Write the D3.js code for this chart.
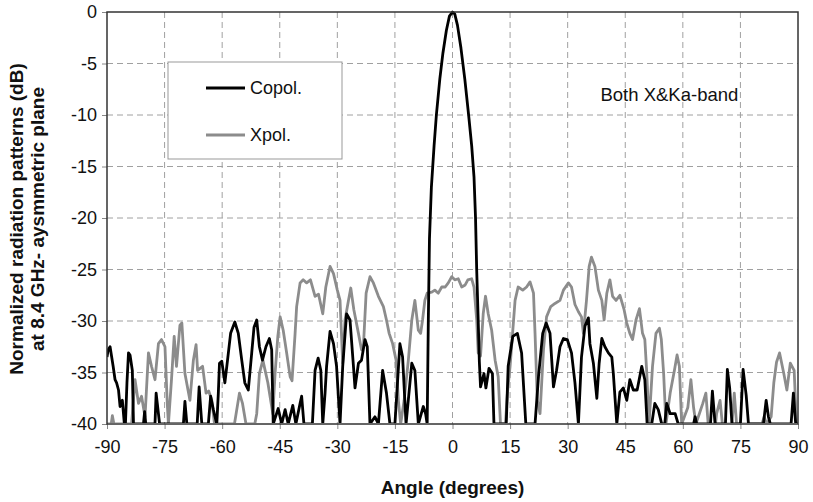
<!DOCTYPE html>
<html><head><meta charset="utf-8">
<script src="https://cdn.jsdelivr.net/npm/d3@7"></script>
<style>body{margin:0;background:#fff}svg{display:block}text{font-family:"Liberation Sans",Arial,sans-serif}</style>
</head><body><svg id="c" width="813" height="502"></svg>
<script>
const xTicks=[-90,-75,-60,-45,-30,-15,0,15,30,45,60,75,90];
const yTicks=[0,-5,-10,-15,-20,-25,-30,-35,-40];
const seriesNames=["Copol.","Xpol."];
const copol=[[-90,-33.5],[-89.7,-32.8],[-89.2,-32.5],[-88.4,-34.4],[-87.9,-35.7],[-87.5,-36.0],[-87.0,-36.7],[-86.6,-38.3],[-86.0,-37.7],[-85.5,-39.9],[-85.2,-40],[-84.8,-36],[-84.4,-33.1],[-84.0,-33.3],[-83.4,-34.8],[-83.1,-40],[-80.5,-40],[-80.2,-38.8],[-79.9,-40],[-77.5,-40],[-77.2,-37.0],[-76.9,-38],[-76.3,-40],[-70.1,-40],[-69.7,-37.8],[-69.2,-40],[-66.5,-40],[-66.0,-36.4],[-65.3,-40],[-63.6,-40],[-63.0,-37.3],[-62.3,-38.6],[-61.4,-40],[-61.0,-37],[-60.7,-34.1],[-60.1,-33.9],[-59.3,-36.0],[-58.6,-33.8],[-57.8,-31.2],[-56.7,-30.1],[-55.8,-31.2],[-54.9,-33.8],[-54.1,-36.0],[-53.2,-36.7],[-52.3,-33.1],[-51.7,-30.6],[-51.0,-29.9],[-50.3,-32.5],[-49.5,-33.8],[-48.6,-32.5],[-47.7,-31.7],[-47.1,-32.8],[-46.7,-40],[-45.4,-38.5],[-44.5,-40],[-43.6,-38.6],[-42.8,-40],[-41.6,-38.2],[-40.8,-40],[-39.7,-38],[-39.3,-37.3],[-38.7,-40],[-36.5,-40],[-35.8,-34.8],[-35.0,-33.6],[-34.3,-34.8],[-33.8,-40],[-33.2,-37],[-32.8,-34.4],[-31.9,-31.0],[-31.0,-32.2],[-30.2,-34.4],[-29.3,-40],[-28.6,-34.4],[-27.6,-29.3],[-26.7,-29.9],[-25.8,-34.4],[-25.4,-36.5],[-24.5,-34.1],[-23.7,-33.8],[-22.8,-31.8],[-22.2,-32.5],[-21.5,-40],[-20.2,-39.3],[-19.3,-40],[-18.2,-34.8],[-17.2,-37],[-16.3,-40],[-15.0,-40],[-13.7,-32.2],[-13.0,-33.5],[-12.1,-40],[-10.6,-34.1],[-9.8,-34.8],[-8.9,-40],[-7.6,-38.3],[-7.0,-39.0],[-6.6,-40],[-6.3,-30],[-6.0,-22],[-5.5,-17],[-4.8,-13],[-4.2,-10],[-3.3,-6.5],[-2.5,-4],[-1.6,-1.8],[-0.8,-0.4],[0,0],[0.6,-0.2],[1.3,-1.3],[2.2,-3.5],[3.2,-6.5],[4.2,-10],[5.0,-13],[5.6,-16],[6.0,-20],[6.3,-25],[6.7,-30],[7.0,-34],[7.3,-36.4],[8.2,-35.1],[8.7,-36.5],[9.5,-34.6],[10.4,-35.1],[10.8,-40],[14.0,-40],[14.5,-34.4],[15.7,-31.5],[16.9,-31.2],[18.0,-33.1],[19.1,-40],[21.5,-40],[22.4,-35.4],[23.5,-31.2],[24.4,-30.2],[25.4,-31.2],[26.3,-36.4],[27.1,-34.8],[28.0,-32.5],[28.9,-31.7],[29.9,-31.8],[31.0,-33.1],[31.9,-36],[32.8,-40],[33.6,-33.5],[34.5,-30.5],[35.4,-29.7],[35.8,-32.2],[36.7,-34.1],[37.6,-37.5],[38.2,-34.1],[38.9,-31.7],[39.7,-32.5],[40.6,-33.1],[41.5,-33.5],[41.9,-35.1],[42.8,-40],[43.6,-36.9],[44.5,-36.5],[45.4,-37.7],[46.2,-35.7],[47.1,-36.7],[48.1,-36.7],[49.3,-34.4],[50.1,-35.7],[50.7,-40],[51.9,-40],[52.7,-38],[53.6,-38.6],[54.5,-40],[55.3,-40],[55.8,-38],[56.7,-39],[58.0,-39],[58.8,-40],[62.8,-40],[63.2,-39.3],[63.6,-40],[67.2,-40],[67.7,-36.8],[68.4,-40],[71.1,-40],[71.6,-34.7],[72.2,-36.5],[72.8,-40],[75.0,-40],[75.7,-34.7],[76.5,-37.2],[77.1,-40],[81.0,-40],[81.7,-37.7],[82.3,-39.3],[82.8,-40],[88.2,-40],[88.8,-37],[89.4,-40],[90,-40]];
const xpol=[[-90,-40],[-88.9,-40],[-88.6,-39.2],[-88.2,-40],[-83.6,-40],[-82.7,-35.7],[-81.8,-38],[-81.0,-37.3],[-80.1,-39.3],[-79.2,-33.1],[-78.4,-34.4],[-77.5,-35.7],[-76.6,-32.2],[-75.8,-31.8],[-74.9,-32.5],[-74.3,-38],[-74.0,-40],[-73.2,-35.7],[-72.5,-31.5],[-71.9,-34.4],[-71.0,-30.4],[-70.5,-30.2],[-69.7,-35.1],[-68.4,-37.7],[-67.5,-33.8],[-66.8,-32.3],[-66.4,-34.8],[-65.1,-34.4],[-64.2,-37],[-63.5,-36.8],[-62.7,-37.7],[-62.0,-40],[-56.8,-40],[-55.5,-37],[-54.7,-38],[-53.8,-40],[-51.5,-40],[-51.0,-39],[-50.3,-35.1],[-49.4,-33.8],[-48.1,-36],[-46.8,-39],[-46.2,-35],[-45.5,-31.5],[-44.9,-29.6],[-44.1,-30.9],[-43.2,-33.1],[-42.3,-35.4],[-41.8,-35.8],[-41.0,-31.2],[-40.6,-28.6],[-39.7,-26.3],[-38.9,-26.0],[-38.0,-26.3],[-37.0,-26.0],[-35.8,-27.6],[-34.9,-27.4],[-33.8,-29.3],[-33.0,-26.7],[-31.9,-24.7],[-31.0,-25.4],[-30.0,-27.0],[-29.3,-28],[-28.6,-34.1],[-28.0,-29.9],[-27.1,-28],[-26.5,-26.8],[-25.7,-28.9],[-24.5,-31.2],[-23.7,-32.8],[-23.2,-32.4],[-22.5,-27.3],[-21.5,-25.7],[-20.6,-26.3],[-19.3,-27.6],[-18.0,-28.6],[-17.2,-29.9],[-16.5,-31.2],[-15.6,-32.2],[-14.7,-33.8],[-14.1,-37.7],[-13.5,-40],[-12.6,-37.7],[-11.5,-33.8],[-10.6,-29.9],[-9.8,-28],[-8.9,-30.9],[-8.3,-31.2],[-7.8,-29.9],[-7.2,-28],[-6.6,-27.3],[-5.4,-27.2],[-4.6,-27],[-3.7,-27.3],[-2.8,-26.7],[-1.9,-26.7],[-1.1,-26.3],[-0.2,-25.7],[0.6,-26.0],[1.5,-25.9],[2.4,-26.7],[3.3,-26.5],[4.0,-26.0],[5.0,-25.9],[5.6,-26.7],[6.3,-29.9],[6.7,-33.1],[7.3,-33.4],[8.0,-29.3],[8.6,-27.6],[9.3,-29.3],[10.2,-30.9],[11.1,-33.8],[11.9,-35.4],[12.5,-40],[13.8,-40],[14.3,-37],[15.0,-34.4],[16.3,-28.0],[17.1,-26.7],[18.3,-27],[19.3,-26.7],[20.2,-26.2],[21.1,-27.3],[21.5,-31.2],[22.1,-37.7],[22.8,-39],[23.7,-32.8],[24.5,-29.6],[25.6,-28.6],[26.7,-28.3],[28.0,-28.0],[28.9,-27.0],[30.2,-26.3],[31.0,-26.7],[31.9,-28.4],[32.8,-29.1],[33.6,-29.6],[34.1,-31.2],[34.9,-28.0],[35.6,-24.7],[36.2,-23.8],[37.1,-24.7],[38.0,-27],[38.9,-28],[39.5,-29.9],[40.2,-27.3],[41.0,-26.0],[41.7,-27.6],[42.6,-28],[43.6,-27.5],[44.7,-28.9],[45.4,-30.2],[46.2,-31.2],[46.9,-31.8],[47.8,-29.9],[48.7,-28.8],[49.5,-31.2],[50.1,-31.8],[50.6,-35],[51.2,-40],[52.1,-34.4],[53.0,-31.2],[53.9,-30.7],[54.4,-31.8],[55.0,-35.1],[55.6,-40],[56.7,-37],[57.8,-34.8],[58.5,-33.3],[59.1,-34.4],[59.7,-40],[61.3,-38.4],[62.1,-35.7],[62.8,-38.4],[63.4,-40],[64.3,-39],[65.2,-38],[66.0,-37],[66.6,-40],[68.5,-40],[68.8,-39],[69.7,-37.7],[70.3,-40],[72.8,-40],[73.4,-37],[74.0,-40],[80.6,-40],[81.2,-39.3],[81.8,-40],[83.0,-39.3],[83.7,-36.0],[84.4,-34],[85.2,-33.1],[86.3,-35.1],[87.1,-36.7],[88.0,-34.1],[89.0,-34.8],[89.6,-40],[90,-40]];

const svg=d3.select("#c");
const m={l:107,r:15,t:12,b:78};
const W=813-m.l-m.r, H=502-m.t-m.b;
const x=d3.scaleLinear().domain([-90,90]).range([0,W]);
const y=d3.scaleLinear().domain([-40,0]).range([H,0]);
const g=svg.append("g").attr("transform",`translate(${m.l},${m.t})`);
const fmt=d=>String(d);

// grid
g.append("g").selectAll("line").data(xTicks.slice(1,-1)).join("line")
 .attr("x1",d=>x(d)).attr("x2",d=>x(d)).attr("y1",0).attr("y2",H)
 .attr("stroke","#a0a0a0").attr("stroke-width",1).attr("stroke-dasharray","6,4");
g.append("g").selectAll("line").data(yTicks.slice(1,-1)).join("line")
 .attr("y1",d=>y(d)).attr("y2",d=>y(d)).attr("x1",0).attr("x2",W)
 .attr("stroke","#a0a0a0").attr("stroke-width",1).attr("stroke-dasharray","6,4");

// axes
const xa=g.append("g").attr("transform",`translate(0,${H})`)
 .call(d3.axisBottom(x).tickValues(xTicks).tickSize(5).tickPadding(11).tickFormat(fmt));
const ya=g.append("g").call(d3.axisLeft(y).tickValues(yTicks).tickSize(5).tickPadding(5).tickFormat(fmt));
[xa,ya].forEach(a=>{a.select(".domain").remove();a.selectAll(".tick line").attr("stroke","#888");
 a.selectAll("text").attr("font-size",18).attr("fill","#111").attr("font-family","Liberation Sans, Arial, sans-serif");});

g.append("clipPath").attr("id","clip").append("rect").attr("x",0).attr("y",-2).attr("width",W).attr("height",H+1);
const line=d3.line().x(d=>x(d[0])).y(d=>y(d[1]));
g.append("path").datum(xpol).attr("d",line).attr("fill","none").attr("stroke","#8c8c8c").attr("stroke-width",2.8).attr("stroke-linejoin","round").attr("clip-path","url(#clip)");
g.append("path").datum(copol).attr("d",line).attr("fill","none").attr("stroke","#000").attr("stroke-width",2.8).attr("stroke-linejoin","round").attr("clip-path","url(#clip)");

g.append("rect").attr("x",0).attr("y",0).attr("width",W).attr("height",H).attr("fill","none").attr("stroke","#333").attr("stroke-width",1.5);

// legend
const lg=g.append("g").attr("transform",`translate(${168-m.l},${62-m.t})`);
lg.append("rect").attr("width",174).attr("height",97).attr("fill","#fff").attr("stroke","#999").attr("stroke-width",1);
const colors=["#000","#8c8c8c"];
seriesNames.forEach((n,i)=>{
 const yy=26+i*47;
 lg.append("line").attr("x1",38).attr("x2",77).attr("y1",yy).attr("y2",yy).attr("stroke",colors[i]).attr("stroke-width",2.8);
 lg.append("text").attr("x",82).attr("y",yy+6).attr("font-size",18).attr("fill","#111").text(n);
});
g.append("text").attr("x",x(56.5)).attr("y",y(-8.6)).attr("text-anchor","middle").attr("font-size",18.5).attr("fill","#111").text("Both X&Ka-band");

// titles
svg.append("text").attr("x",m.l+W/2).attr("y",494).attr("text-anchor","middle").attr("font-size",19).attr("font-weight","bold").attr("fill","#111").text("Angle (degrees)");
const yl=svg.append("text").attr("transform","translate(23,219) rotate(-90)").attr("text-anchor","middle").attr("font-size",19).attr("font-weight","bold").attr("fill","#111");
yl.append("tspan").attr("x",0).attr("dy",0).text("Normalized radiation patterns (dB)");
yl.append("tspan").attr("x",0).attr("dy",21).text("at 8.4 GHz- aysmmetric plane");
</script></body></html>
